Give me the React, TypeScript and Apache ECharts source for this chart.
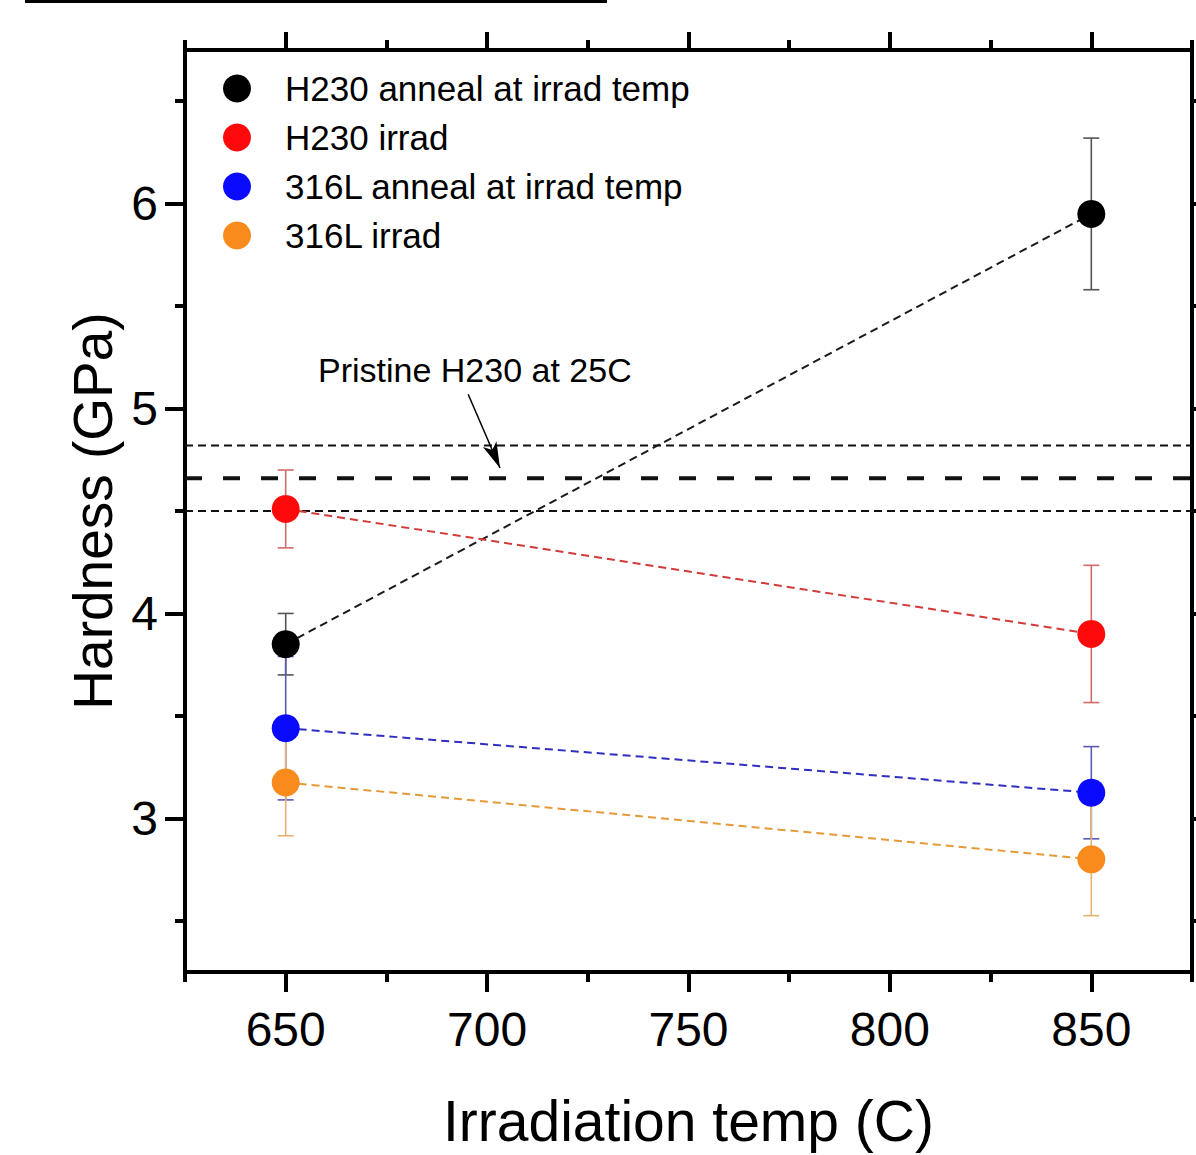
import React, { useEffect, useRef } from "react";
import * as echarts from "echarts";

const temps = [650, 850];
const seriesNames = [
  "H230 anneal at irrad temp",
  "H230 irrad",
  "316L anneal at irrad temp",
  "316L irrad",
];
const h230Anneal = [3.85, 5.95];
const h230AnnealErr = [0.15, 0.37];
const h230Irrad = [4.51, 3.9];
const h230IrradErr = [0.19, 0.335];
const l316Anneal = [3.44, 3.125];
const l316AnnealErr = [0.35, 0.225];
const l316Irrad = [3.175, 2.8];
const l316IrradErr = [0.26, 0.275];

const pristineMean = 4.66;
const pristineLow = 4.5;
const pristineHigh = 4.82;

const xRange = [625, 875];
const yRange = [2.25, 6.75];
const xMajor = [650, 700, 750, 800, 850];
const xMinor = [625, 675, 725, 775, 825, 875];
const yMajor = [3, 4, 5, 6];
const yMinor = [2.5, 3.5, 4.5, 5.5, 6.5];

const annotationText = "Pristine H230 at 25C";
const arrowFrom = [695.3, 5.07];
const arrowTo = [703.2, 4.71];

const markerColors = ["#000000", "#ff0a0a", "#0a0aff", "#f98a1c"];
const lineColors = ["#1a1a1a", "#d23a3a", "#3030c0", "#e59a3a"];
const errColors = ["#555555", "#d46a6a", "#5a5ab8", "#e6b272"];

const FONT = "Liberation Sans, Arial, sans-serif";

export default function App() {
  const ref = useRef<HTMLDivElement>(null);
  useEffect(() => {
    if (!ref.current) return;
    const chart = echarts.init(ref.current, null, { renderer: "svg" });
    const means = [h230Anneal, h230Irrad, l316Anneal, l316Irrad];
    const errs = [h230AnnealErr, h230IrradErr, l316AnnealErr, l316IrradErr];

    const gridRect = { left: 185, right: 4, top: 50, bottom: 183 };

    const axisLine = { show: true, onZero: false, lineStyle: { color: "#000", width: 4 } };

    const xAxis: any[] = [
      {
        type: "value", gridIndex: 0, position: "bottom", min: xRange[0], max: xRange[1],
        axisLine, splitLine: { show: false },
        axisTick: { show: true, customValues: xMajor, length: 20, lineStyle: { width: 4, color: "#000" } },
        axisLabel: { show: true, customValues: xMajor, margin: 33, fontSize: 48, color: "#000", fontFamily: FONT },
        name: "Irradiation temp (C)", nameLocation: "middle", nameGap: 120,
        nameTextStyle: { fontSize: 57, color: "#000", fontFamily: FONT },
      },
      {
        type: "value", gridIndex: 0, position: "top", min: xRange[0], max: xRange[1],
        axisLine, splitLine: { show: false },
        axisTick: { show: true, customValues: xMajor, length: 18, lineStyle: { width: 4, color: "#000" } },
        axisLabel: { show: false },
      },
      {
        type: "value", gridIndex: 1, position: "bottom", min: xRange[0], max: xRange[1],
        axisLine: { show: false, onZero: false }, splitLine: { show: false },
        axisTick: { show: true, customValues: xMinor, length: 10, lineStyle: { width: 4, color: "#000" } },
        axisLabel: { show: false },
      },
      {
        type: "value", gridIndex: 1, position: "top", min: xRange[0], max: xRange[1],
        axisLine: { show: false, onZero: false }, splitLine: { show: false },
        axisTick: { show: true, customValues: xMinor, length: 10, lineStyle: { width: 4, color: "#000" } },
        axisLabel: { show: false },
      },
    ];

    const yAxis: any[] = [
      {
        type: "value", gridIndex: 0, position: "left", min: yRange[0], max: yRange[1],
        axisLine, splitLine: { show: false },
        axisTick: { show: true, customValues: yMajor, length: 20, lineStyle: { width: 4, color: "#000" } },
        axisLabel: { show: true, customValues: yMajor, margin: 27, fontSize: 48, color: "#000", fontFamily: FONT },
        name: "Hardness (GPa)", nameLocation: "middle", nameGap: 62,
        nameTextStyle: { fontSize: 55, color: "#000", fontFamily: FONT },
      },
      {
        type: "value", gridIndex: 0, position: "right", min: yRange[0], max: yRange[1],
        axisLine, splitLine: { show: false },
        axisTick: { show: true, customValues: yMajor, length: 20, lineStyle: { width: 4, color: "#000" } },
        axisLabel: { show: false },
      },
      {
        type: "value", gridIndex: 1, position: "left", min: yRange[0], max: yRange[1],
        axisLine: { show: false, onZero: false }, splitLine: { show: false },
        axisTick: { show: true, customValues: yMinor, length: 10, lineStyle: { width: 4, color: "#000" } },
        axisLabel: { show: false },
      },
      {
        type: "value", gridIndex: 1, position: "right", min: yRange[0], max: yRange[1],
        axisLine: { show: false, onZero: false }, splitLine: { show: false },
        axisTick: { show: true, customValues: yMinor, length: 10, lineStyle: { width: 4, color: "#000" } },
        axisLabel: { show: false },
      },
    ];

    const series: any[] = [];

    const refLine = (val: number, width: number, dash: number[], extra: any = {}) => ({
      type: "line",
      xAxisIndex: 0,
      yAxisIndex: 0,
      data: [[xRange[0], val], [xRange[1], val]],
      symbol: "none",
      silent: true,
      z: 1,
      lineStyle: { color: "#111", width, type: dash },
      ...extra,
    });
    series.push(refLine(pristineHigh, 2, [8, 5]));
    series.push(refLine(pristineLow, 2, [8, 5]));
    series.push(
      refLine(pristineMean, 4, [17, 21], {
        markLine: {
          silent: true,
          symbol: ["none", "arrow"],
          symbolSize: [11, 26],
          label: { show: false },
          lineStyle: { color: "#000", width: 1.5, type: "solid" },
          data: [[{ coord: arrowFrom }, { coord: arrowTo }]],
        },
      })
    );

    means.forEach((m, k) => {
      series.push({
        type: "custom",
        xAxisIndex: 0,
        yAxisIndex: 0,
        silent: true,
        z: 2,
        data: temps.map((t, i) => [t, m[i] - errs[k][i], m[i] + errs[k][i]]),
        encode: { x: 0, y: [1, 2] },
        renderItem: (params: any, api: any) => {
          const x = api.value(0);
          const lo = api.coord([x, api.value(1)]);
          const hi = api.coord([x, api.value(2)]);
          const cap = 8;
          const style = { stroke: errColors[k], lineWidth: 1.6 };
          return {
            type: "group",
            children: [
              { type: "line", shape: { x1: lo[0], y1: lo[1], x2: hi[0], y2: hi[1] }, style },
              { type: "line", shape: { x1: lo[0] - cap, y1: lo[1], x2: lo[0] + cap, y2: lo[1] }, style },
              { type: "line", shape: { x1: hi[0] - cap, y1: hi[1], x2: hi[0] + cap, y2: hi[1] }, style },
            ],
          };
        },
      });
    });

    means.forEach((m, k) => {
      series.push({
        name: seriesNames[k],
        type: "line",
        xAxisIndex: 0,
        yAxisIndex: 0,
        z: 3,
        data: temps.map((t, i) => [t, m[i]]),
        symbol: "circle",
        symbolSize: 28,
        itemStyle: { color: markerColors[k] },
        lineStyle: { color: lineColors[k], width: 2, type: [8, 5] },
      });
    });

    chart.setOption({
      animation: false,
      backgroundColor: "#ffffff",
      textStyle: { fontFamily: FONT },
      grid: [{ ...gridRect }, { ...gridRect }],
      xAxis,
      yAxis,
      legend: {
        data: seriesNames,
        orient: "vertical",
        left: 218,
        top: 66,
        icon: "circle",
        itemWidth: 86,
        itemHeight: 28,
        itemGap: 14,
        selectedMode: false,
        textStyle: { fontSize: 35, lineHeight: 28, color: "#000", fontFamily: FONT },
      },
      graphic: [
        {
          type: "rect",
          shape: { x: 25, y: 0, width: 582, height: 3 },
          style: { fill: "#000" },
        },
        {
          type: "text",
          x: 318,
          y: 370,
          style: {
            text: annotationText,
            fontSize: 34,
            fontFamily: FONT,
            fill: "#000",
            textAlign: "left",
            textVerticalAlign: "middle",
          },
        },
      ],
      series,
    });
    return () => chart.dispose();
  }, []);
  return (
    <div
      ref={ref}
      style={{ position: "fixed", left: 0, top: 0, width: 1196, height: 1155, background: "#fff" }}
    />
  );
}
